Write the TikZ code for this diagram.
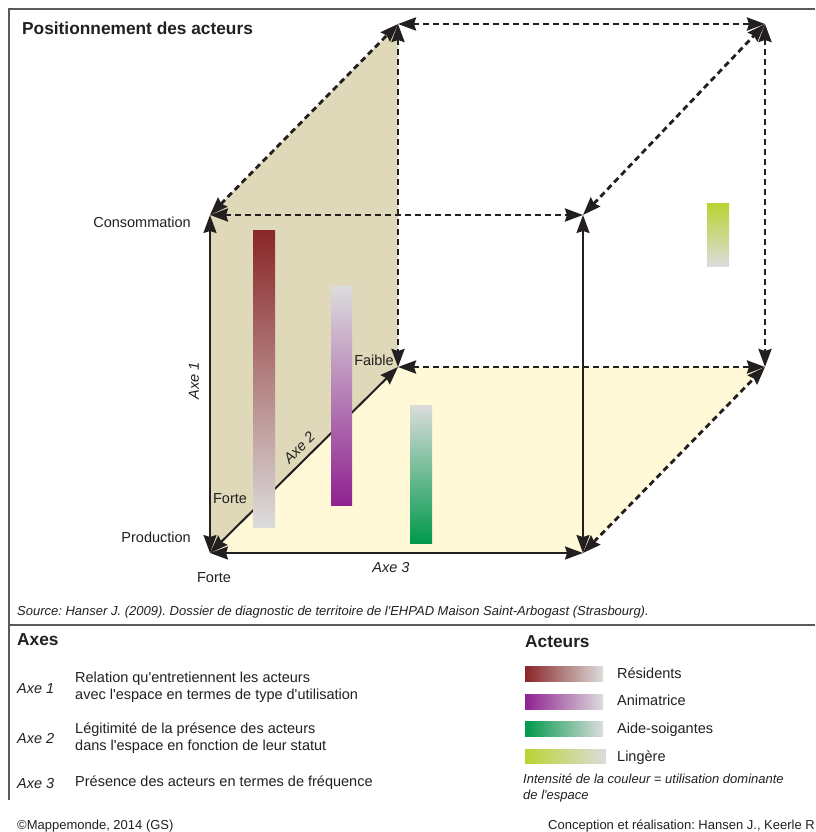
\documentclass[tikz,border=0pt]{standalone}
\usepackage{fontspec}
\setmainfont{Liberation Sans}
\usetikzlibrary{arrows.meta,positioning}
\frenchspacing

\definecolor{inkdark}{RGB}{35,31,32}
\definecolor{framegray}{RGB}{90,90,90}
\definecolor{facetan}{RGB}{223,217,185}
\definecolor{faceyellow}{RGB}{255,249,215}
\definecolor{fadegray}{RGB}{220,220,220}
\definecolor{residred}{RGB}{138,38,40}
\definecolor{animpurple}{RGB}{143,34,144}
\definecolor{aidegreen}{RGB}{0,153,76}
\definecolor{lingelime}{RGB}{184,212,50}

\newcommand{\apos}{\textquotesingle}

\tikzset{
  txt/.style={inner sep=0pt, text=inkdark},
  axlbl/.style={txt, font=\fontsize{14.5}{17}\selectfont\itshape},
  small/.style={txt, font=\fontsize{13}{15.5}\selectfont\itshape},
  head/.style={txt, font=\bfseries\fontsize{17.3}{20}\selectfont},
  axis/.style={draw=inkdark, line width=2pt,
    {Stealth[length=18pt,width=13pt,inset=2pt]}-{Stealth[length=18pt,width=13pt,inset=2pt]}},
  hidden/.style={axis, line width=2.8pt, dash pattern=on 6pt off 4pt},
  legbar/.style={minimum width=78pt, minimum height=15pt, inner sep=0pt},
}

\begin{document}
\begin{tikzpicture}[x=1pt, y=-1pt, font=\fontsize{14.5}{17}\selectfont]
\useasboundingbox (0,0) rectangle (815,832);

% frame
\draw[framegray, line width=1.5pt] (815,9) -- (9,9) -- (9,800);
\draw[framegray, line width=1.5pt] (9,625) -- (815,625);

\node[head, anchor=west] (title) at (22,28) {Positionnement des acteurs};

% corners of the cube
\coordinate (prod) at (210,553);
\coordinate (cons) at (210,215);
\coordinate (ftr) at (583,215);
\coordinate (fbr) at (583,553);
\coordinate (faib) at (398,367);
\coordinate (btl) at (398,24);
\coordinate (btr) at (765,24);
\coordinate (bbr) at (765,367);

% faces
\fill[facetan] (prod) -- (cons) -- (btl) -- (faib) -- cycle;
\fill[faceyellow] (prod) -- (fbr) -- (bbr) -- (faib) -- cycle;

% hidden edges
\draw[hidden] (cons) -- (ftr);
\draw[hidden] (cons) -- (btl);
\draw[hidden] (btl) -- (btr);
\draw[hidden] (btl) -- (faib);
\draw[hidden] (ftr) -- (btr);
\draw[hidden] (btr) -- (bbr);
\draw[hidden] (faib) -- (bbr);
\draw[hidden] (fbr) -- (bbr);

% axes
\draw[axis] (prod) -- node[axlbl, pos=.51, sloped, above=10pt] (lax1) {Axe 1} (cons);
\draw[axis] (prod) -- node[axlbl, pos=.52, sloped, above=6pt] (lax2) {Axe 2} (faib);
\draw[axis] (prod) -- node[axlbl, pos=.485, below=8pt] (lax3) {Axe 3} (fbr);
\draw[axis] (fbr) -- (ftr);

% actors
\shade[top color=residred, bottom color=fadegray] (253,230) rectangle (275,527);
\shade[top color=fadegray, bottom color=animpurple] (331,286) rectangle (352,505);
\shade[top color=fadegray, bottom color=aidegreen] (410,405) rectangle (432,543);
\shade[top color=lingelime, bottom color=fadegray] (707,203) rectangle (729,266);

% labels
\node[txt, anchor=east] (lcons) at (191,222) {Consommation};
\node[txt, anchor=east] (lprod) at (191,537) {Production};
\node[txt] (forte1) at (230,499) {Forte};
\node[txt] (forte2) at (214,578) {Forte};
\node[txt] (lfaib) at (374,360) {Faible};

\node[small, anchor=west] (source) at (17,612) {Source: Hanser J. (2009). Dossier de diagnostic de territoire de l\apos EHPAD Maison Saint-Arbogast (Strasbourg).};

% legend: axes
\node[head, anchor=west] (axes) at (17,640) {Axes};
\node[axlbl, anchor=west] (ax1) at (17,689) {Axe 1};
\node[txt, anchor=west, align=left] (ax1t) at (75,687) {Relation qu\apos entretiennent les acteurs\\avec l\apos espace en termes de type d\apos utilisation};
\node[axlbl, anchor=west] (ax2) at (17,738) {Axe 2};
\node[txt, anchor=west, align=left] (ax2t) at (75,738) {Légitimité de la présence des acteurs\\dans l\apos espace en fonction de leur statut};
\node[axlbl, anchor=west] (ax3) at (17,783) {Axe 3};
\node[txt, anchor=west] (ax3t) at (75,783) {Présence des acteurs en termes de fréquence};

% legend: actors
\node[head, anchor=west] (acteurs) at (525,642) {Acteurs};
\node[legbar, anchor=north west, left color=residred, right color=fadegray] (kres) at (525,666) {};
\node[legbar, anchor=north west, left color=animpurple, right color=fadegray] (kani) at (525,694) {};
\node[legbar, anchor=north west, left color=aidegreen, right color=fadegray] (kaid) at (525,721) {};
\node[legbar, anchor=north west, left color=lingelime, right color=fadegray, minimum width=81pt, minimum height=14pt] (klin) at (525,749) {};
\node[txt, anchor=base west] (tres) at (617,678) {Résidents};
\node[txt, anchor=base west] (tani) at (617,705) {Animatrice};
\node[txt, anchor=base west] (taid) at (617,733) {Aide-soigantes};
\node[txt, anchor=base west] (tlin) at (617,761) {Lingère};
\node[small, anchor=north west, align=left] (note) at (523,774) {Intensité de la couleur = utilisation dominante\\de l\apos espace};

\node[txt, anchor=west, font=\fontsize{13}{15}\selectfont] (copy) at (17,826) {©Mappemonde, 2014 (GS)};
\node[txt, anchor=west, font=\fontsize{13}{15}\selectfont] (credit) at (548,826) {Conception et réalisation: Hansen J., Keerle R};
\end{tikzpicture}
\end{document}
